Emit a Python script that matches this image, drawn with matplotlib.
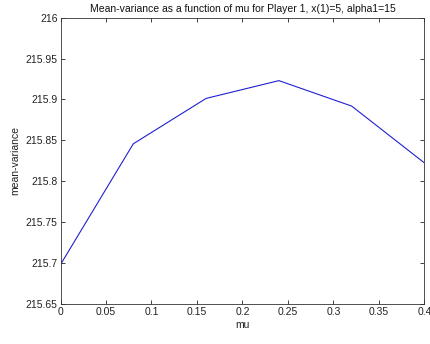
import matplotlib
matplotlib.use("Agg")
import matplotlib.pyplot as plt

mu = [0.0, 0.08, 0.16, 0.24, 0.32, 0.40]
mean_variance = [215.6985, 215.8459, 215.9013, 215.9230, 215.8919, 215.8225]
xticks = [0, 0.05, 0.1, 0.15, 0.2, 0.25, 0.3, 0.35, 0.4]
xticklabels = ["0", "0.05", "0.1", "0.15", "0.2", "0.25", "0.3", "0.35", "0.4"]
yticks = [215.65, 215.7, 215.75, 215.8, 215.85, 215.9, 215.95, 216]
yticklabels = ["215.65", "215.7", "215.75", "215.8", "215.85", "215.9", "215.95", "216"]

plt.rcParams['font.family'] = ['Liberation Sans', 'DejaVu Sans']
fig = plt.figure(figsize=(4.3, 3.44), dpi=100)
ax = fig.add_axes([0.1407, 0.1154, 0.9872 - 0.1407, 0.949 - 0.1154])
ax.plot(mu, mean_variance, color='#2020d0', linewidth=0.8)
ax.set_xlim(0, 0.4)
ax.set_ylim(215.65, 216)
ax.set_xticks(xticks)
ax.set_xticklabels(xticklabels)
ax.set_yticks(yticks)
ax.set_yticklabels(yticklabels)
ax.tick_params(direction='in', top=True, right=True, length=3, width=0.6,
               labelsize=7.5, colors='#222222', pad=2)
for s in ax.spines.values():
    s.set_linewidth(0.6)
    s.set_color('#333333')
ax.set_title("Mean-variance as a function of mu for Player 1, x(1)=5, alpha1=15",
             fontsize=7.5, pad=4, color='#111111')
ax.set_xlabel("mu", fontsize=7.5, labelpad=2, color='#222222')
ax.set_ylabel("mean-variance", fontsize=7.5, labelpad=4, color='#222222')
fig.savefig("out.png", dpi=100)
